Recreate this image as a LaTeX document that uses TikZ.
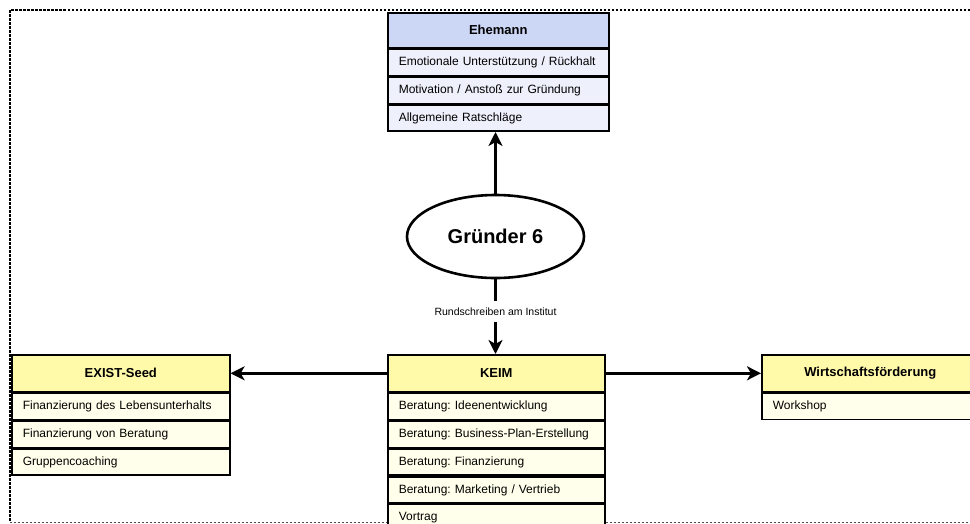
\documentclass[tikz,border=0pt]{standalone}
\usepackage{fontspec}
\setmainfont{Liberation Sans}
\frenchspacing
\usetikzlibrary{shapes.geometric,arrows.meta}
\definecolor{bluehd}{HTML}{CCD6F5}
\definecolor{bluerow}{HTML}{EEF1FC}
\definecolor{yelhd}{HTML}{FFFAAA}
\definecolor{yelrow}{HTML}{FFFFEC}
\begin{document}
\begin{tikzpicture}[x=1pt,y=-1pt,
  hdrbox/.style={draw, line width=1.6pt, inner sep=0pt, anchor=north west,
    font=\bfseries\fontsize{13}{15}\selectfont},
  rowbox/.style={draw, line width=1.6pt, inner xsep=11pt, inner ysep=0pt,
    anchor=north west, align=left, minimum height=26.2pt,
    font=\fontsize{12}{14}\selectfont},
  conn/.style={line width=2.6pt, -{Stealth[length=14pt,width=14pt,inset=4pt]}},
  lbl/.style={fill=white, inner xsep=2pt, inner ysep=7pt,
    font=\fontsize{10.5}{12}\selectfont},
  frame/.style={line width=2pt, dash pattern=on 2.5pt off 1.5pt},
  framelow/.style={line width=1pt, draw=black!70, dash pattern=on 2pt off 2pt}
]
\useasboundingbox (0,0) rectangle (970,523);
\clip (0,0) rectangle (970,523);

% frame
\draw[frame] (990,10) -- (10,10) -- (10,522);
\draw[framelow] (10,522) -- (990,522);

% Ehemann
\node[hdrbox, fill=bluehd, minimum width=221pt, minimum height=35pt] (eh) at (387,12) {Ehemann};
\node[rowbox, fill=bluerow, minimum width=221pt, text width=199pt] (eh1) at (eh.south west) {Emotionale Unterstützung / Rückhalt};
\node[rowbox, fill=bluerow, minimum width=221pt, text width=199pt] (eh2) at (eh1.south west) {Motivation / Anstoß zur Gründung};
\node[rowbox, fill=bluerow, minimum width=221pt, text width=199pt] (eh3) at (eh2.south west) {Allgemeine Ratschläge};

% Gruender
\node[ellipse, draw, line width=2.6pt, minimum width=177pt, minimum height=83pt, inner sep=0pt,
  font=\bfseries\fontsize{20}{24}\selectfont] (g) at (495.5,236.5) {Gründer 6};

% KEIM
\node[hdrbox, fill=yelhd, minimum width=217pt, minimum height=37pt] (kh) at (387,354) {KEIM};
\node[rowbox, fill=yelrow, minimum width=217pt, text width=195pt] (k1) at (kh.south west) {Beratung: Ideenentwicklung};
\node[rowbox, fill=yelrow, minimum width=217pt, text width=195pt] (k2) at (k1.south west) {Beratung: Business-Plan-Erstellung};
\node[rowbox, fill=yelrow, minimum width=217pt, text width=195pt] (k3) at (k2.south west) {Beratung: Finanzierung};
\node[rowbox, fill=yelrow, minimum width=217pt, text width=195pt] (k4) at (k3.south west) {Beratung: Marketing / Vertrieb};
\node[rowbox, fill=yelrow, minimum width=217pt, text width=195pt] (k5) at (k4.south west) {Vortrag};

% EXIST-Seed
\node[hdrbox, fill=yelhd, minimum width=218pt, minimum height=37pt] (xh) at (11,354) {EXIST-Seed};
\node[rowbox, fill=yelrow, minimum width=218pt, text width=196pt] (x1) at (xh.south west) {Finanzierung des Lebensunterhalts};
\node[rowbox, fill=yelrow, minimum width=218pt, text width=196pt] (x2) at (x1.south west) {Finanzierung von Beratung};
\node[rowbox, fill=yelrow, minimum width=218pt, text width=196pt] (x3) at (x2.south west) {Gruppencoaching};

% Wirtschaftsfoerderung
\node[hdrbox, fill=yelhd, minimum width=217pt, minimum height=37pt] (wh) at (761,354) {Wirtschaftsförderung};
\node[rowbox, fill=yelrow, minimum width=217pt, text width=195pt] (w1) at (wh.south west) {Workshop};

% connectors
\draw[conn] (g.north) -- (g.north |- eh3.south);
\draw[conn] (g.south) -- node[lbl, pos=0.43] (rl) {Rundschreiben am Institut} (g.south |- kh.north);
\draw[conn] (kh.west) -- (xh.east);
\draw[conn] (kh.east) -- (wh.west);
\end{tikzpicture}
\end{document}
